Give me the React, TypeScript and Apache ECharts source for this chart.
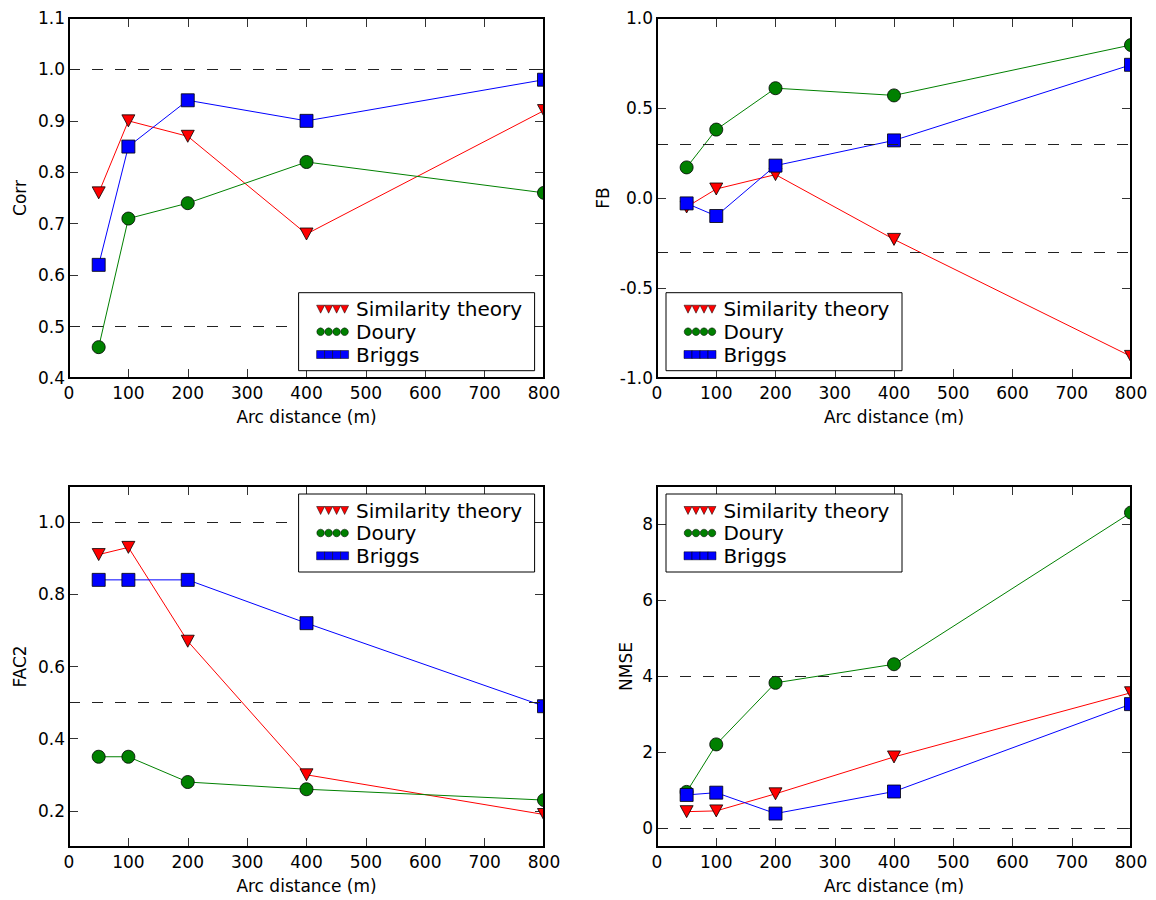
import React, { useEffect, useRef } from "react";
import * as echarts from "echarts";

// ---------- data ----------
const arcDistance = [50, 100, 200, 400, 800];
const seriesNames = ["Similarity theory", "Doury", "Briggs"];
const xTicks = [0, 800, 100]; // min, max, interval

const corrSimilarity = [0.76, 0.9, 0.87, 0.68, 0.92];
const corrDoury = [0.46, 0.71, 0.74, 0.82, 0.76];
const corrBriggs = [0.62, 0.85, 0.94, 0.9, 0.98];
const corrRefs = [0.5, 1.0];

const fbSimilarity = [-0.05, 0.05, 0.13, -0.23, -0.88];
const fbDoury = [0.17, 0.38, 0.61, 0.57, 0.85];
const fbBriggs = [-0.03, -0.1, 0.18, 0.32, 0.74];
const fbRefs = [-0.3, 0.3];

const fac2Similarity = [0.91, 0.93, 0.67, 0.3, 0.19];
const fac2Doury = [0.35, 0.35, 0.28, 0.26, 0.23];
const fac2Briggs = [0.84, 0.84, 0.84, 0.72, 0.49];
const fac2Refs = [0.5, 1.0];
const fac2TickValues = [0.2, 0.4, 0.6, 0.8, 1.0];

const nmseSimilarity = [0.43, 0.45, 0.9, 1.87, 3.56];
const nmseDoury = [0.95, 2.2, 3.82, 4.31, 8.3];
const nmseBriggs = [0.87, 0.93, 0.38, 0.96, 3.26];
const nmseRefs = [0, 4];
const nmseTickValues = [0, 2, 4, 6, 8];

// ---------- styling ----------
const FONT = "DejaVu Sans";
const colors = ["#ff0000", "#008000", "#0000ff"];

const panels = [
  {
    yName: "Corr", values: [corrSimilarity, corrDoury, corrBriggs], refs: corrRefs,
    min: 0.4, max: 1.1, interval: 0.1, custom: null as number[] | null, fmt: (v: number) => v.toFixed(1),
    left: 69, top: 18, width: 475, height: 360, nameGap: 41, legend: [298.6, 292.7],
  },
  {
    yName: "FB", values: [fbSimilarity, fbDoury, fbBriggs], refs: fbRefs,
    min: -1, max: 1, interval: 0.5, custom: null as number[] | null, fmt: (v: number) => v.toFixed(1),
    left: 657, top: 18, width: 474, height: 360, nameGap: 46, legend: [666, 292.7],
  },
  {
    yName: "FAC2", values: [fac2Similarity, fac2Doury, fac2Briggs], refs: fac2Refs,
    min: 0.1, max: 1.1, interval: 0.1, custom: fac2TickValues, fmt: (v: number) => v.toFixed(1),
    left: 69, top: 486, width: 475, height: 361, nameGap: 41, legend: [298.6, 494],
  },
  {
    yName: "NMSE", values: [nmseSimilarity, nmseDoury, nmseBriggs], refs: nmseRefs,
    min: -0.5, max: 9, interval: 0.5, custom: nmseTickValues, fmt: (v: number) => String(Math.round(v)),
    left: 657, top: 486, width: 474, height: 361, nameGap: 23, legend: [666, 494],
  },
];

const tickStyle = { show: true, inside: true, length: 9, lineStyle: { color: "#333", width: 1 } };
const noLine = { show: false, onZero: false };

function buildOption() {
  const grid: any[] = [];
  const xAxis: any[] = [];
  const yAxis: any[] = [];
  const series: any[] = [];
  const graphic: any[] = [];

  panels.forEach((p, i) => {
    grid.push({ left: p.left, top: p.top, width: p.width, height: p.height, show: false });
    // bottom x
    xAxis.push({
      gridIndex: i, type: "value", position: "bottom", min: xTicks[0], max: xTicks[1], interval: xTicks[2],
      name: "Arc distance (m)", nameLocation: "middle", nameGap: 30,
      nameTextStyle: { fontFamily: FONT, fontSize: 17, color: "#000" },
      axisLine: noLine, axisTick: tickStyle, splitLine: { show: false },
      axisLabel: { fontFamily: FONT, fontSize: 17, color: "#000", margin: 6, showMinLabel: true, showMaxLabel: true, hideOverlap: false },
    });
    // top x (ticks only)
    xAxis.push({
      gridIndex: i, type: "value", position: "top", min: xTicks[0], max: xTicks[1], interval: xTicks[2],
      axisLine: noLine, axisTick: tickStyle, splitLine: { show: false }, axisLabel: { show: false },
    });
    const yTick: any = { ...tickStyle };
    const yLabel: any = {
      fontFamily: FONT, fontSize: 17, color: "#000", margin: 4, formatter: p.fmt,
      showMinLabel: true, showMaxLabel: true, hideOverlap: false,
    };
    if (p.custom) {
      yTick.customValues = p.custom;
      yLabel.customValues = p.custom;
    }
    yAxis.push({
      gridIndex: i, type: "value", position: "left", min: p.min, max: p.max, interval: p.interval,
      name: p.yName, nameLocation: "middle", nameGap: p.nameGap,
      nameTextStyle: { fontFamily: FONT, fontSize: 17, color: "#000" },
      axisLine: noLine, axisTick: yTick, splitLine: { show: false }, axisLabel: yLabel,
    });
    yAxis.push({
      gridIndex: i, type: "value", position: "right", min: p.min, max: p.max, interval: p.interval,
      axisLine: noLine, axisTick: p.custom ? { ...tickStyle, customValues: p.custom } : tickStyle,
      splitLine: { show: false }, axisLabel: { show: false },
    });

    p.values.forEach((vals, s) => {
      const sym =
        s === 0
          ? { symbol: "triangle", symbolRotate: 180, symbolSize: [13, 12] }
          : s === 1
          ? { symbol: "circle", symbolSize: 13 }
          : { symbol: "rect", symbolSize: 13 };
      const item: any = {
        type: "line", name: seriesNames[s], xAxisIndex: 2 * i, yAxisIndex: 2 * i,
        data: arcDistance.map((x, k) => [x, vals[k]]),
        ...sym, showAllSymbol: true, clip: true,
        lineStyle: { color: colors[s], width: 1 },
        itemStyle: { color: colors[s], borderColor: "#000", borderWidth: 0.8 },
        emphasis: { disabled: true }, silent: true,
      };
      if (s === 0) {
        item.markLine = {
          silent: true, symbol: "none", label: { show: false },
          lineStyle: { color: "#222", width: 1, type: [11, 12] },
          emphasis: { disabled: true },
          data: p.refs.map((r) => ({ yAxis: r })),
        };
      }
      series.push(item);
    });

    // mask for half-clipped markers at the right edge
    const right = p.left + p.width;
    graphic.push({
      type: "rect", z: 100, silent: true,
      shape: { x: right + 1, y: p.top + 1, width: 24, height: p.height - 2 },
      style: { fill: "#fff" },
    });
    // frame
    graphic.push({
      type: "rect", z: 101, silent: true,
      shape: { x: p.left, y: p.top, width: p.width, height: p.height },
      style: { fill: null, stroke: "#000", lineWidth: 2 },
    });

    // legend box
    const [lx, ly] = p.legend;
    graphic.push({
      type: "rect", z: 102, silent: true,
      shape: { x: lx, y: ly, width: 236, height: 78 },
      style: { fill: "#fff", stroke: "#000", lineWidth: 1 },
    });
    const rowY = [16.5, 39, 61.8];
    seriesNames.forEach((name, s) => {
      const cy = ly + rowY[s];
      for (let k = 0; k < 4; k++) {
        const cx = lx + 22 + 8 * k;
        if (s === 0) {
          graphic.push({
            type: "polygon", z: 103, silent: true,
            shape: { points: [[cx - 4, cy - 4], [cx + 4, cy - 4], [cx, cy + 4]] },
            style: { fill: colors[0], stroke: "#000", lineWidth: 0.5 },
          });
        } else if (s === 1) {
          graphic.push({
            type: "circle", z: 103, silent: true,
            shape: { cx, cy, r: 3.8 },
            style: { fill: colors[1], stroke: "#000", lineWidth: 0.5 },
          });
        } else {
          graphic.push({
            type: "rect", z: 103, silent: true,
            shape: { x: cx - 4, y: cy - 4, width: 8, height: 8 },
            style: { fill: colors[2], stroke: "#000", lineWidth: 0.5 },
          });
        }
      }
      graphic.push({
        type: "text", z: 103, silent: true, x: lx + 57.4, y: cy,
        style: { text: name, fontFamily: FONT, fontSize: 20, fill: "#000", verticalAlign: "middle", align: "left" },
      });
    });
  });

  return {
    animation: false,
    backgroundColor: "#fff",
    grid, xAxis, yAxis, series, graphic,
  };
}

export default function App() {
  const ref = useRef<HTMLDivElement>(null);
  useEffect(() => {
    if (!ref.current) return;
    const chart = echarts.init(ref.current, null, { renderer: "svg" });
    chart.setOption(buildOption() as any);
    return () => chart.dispose();
  }, []);
  return (
    <div
      ref={ref}
      style={{ position: "absolute", left: 0, top: 0, width: 1156, height: 900, background: "#fff" }}
    />
  );
}
